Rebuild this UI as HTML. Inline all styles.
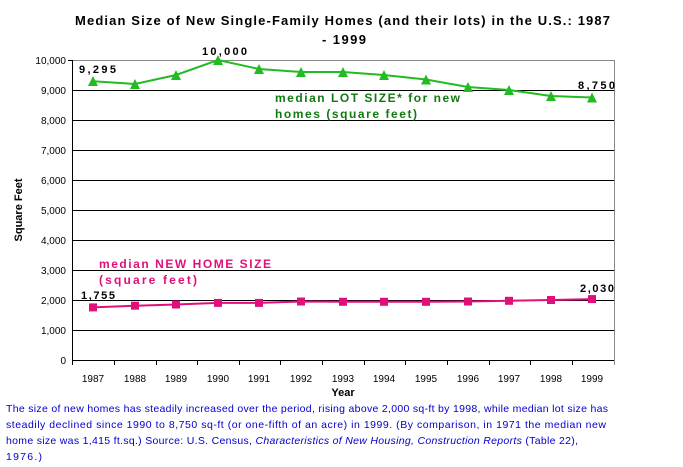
<!DOCTYPE html>
<html><head><style>
html,body{margin:0;padding:0;background:#fff;}
svg{display:block;font-family:"Liberation Sans",Arial,sans-serif;}
</style></head><body>
<svg width="683" height="467" viewBox="0 0 683 467">
<text x="75" y="25" font-size="13" font-weight="bold" textLength="535" lengthAdjust="spacing">Median Size of New Single-Family Homes (and their lots) in the U.S.: 1987</text>
<text x="322" y="44" font-size="13" font-weight="bold" textLength="44" lengthAdjust="spacing">- 1999</text>
<g stroke="#000" stroke-width="1">
<line x1="72" y1="60.5" x2="614" y2="60.5" stroke="#888"/>
<line x1="72" y1="90.5" x2="614" y2="90.5"/>
<line x1="72" y1="120.5" x2="614" y2="120.5"/>
<line x1="72" y1="150.5" x2="614" y2="150.5"/>
<line x1="72" y1="180.5" x2="614" y2="180.5"/>
<line x1="72" y1="210.5" x2="614" y2="210.5"/>
<line x1="72" y1="240.5" x2="614" y2="240.5"/>
<line x1="72" y1="270.5" x2="614" y2="270.5"/>
<line x1="72" y1="300.5" x2="614" y2="300.5"/>
<line x1="72" y1="330.5" x2="614" y2="330.5"/>
<line x1="72" y1="360.5" x2="614" y2="360.5"/>
<line x1="72.5" y1="60" x2="72.5" y2="365"/>
<line x1="614.5" y1="60" x2="614.5" y2="365" stroke="#888"/>
<line x1="68" y1="60.5" x2="72" y2="60.5"/>
</g>
<g font-size="10" text-anchor="end">
<text x="66" y="64">10,000</text><text x="66" y="94">9,000</text><text x="66" y="124">8,000</text>
<text x="66" y="154">7,000</text><text x="66" y="184">6,000</text><text x="66" y="214">5,000</text>
<text x="66" y="244">4,000</text><text x="66" y="274">3,000</text><text x="66" y="304">2,000</text>
<text x="66" y="334">1,000</text><text x="66" y="364">0</text>
</g>
<g stroke="#000">
<line x1="114.5" y1="360" x2="114.5" y2="365"/><line x1="156.5" y1="360" x2="156.5" y2="365"/>
<line x1="197.5" y1="360" x2="197.5" y2="365"/><line x1="239.5" y1="360" x2="239.5" y2="365"/>
<line x1="280.5" y1="360" x2="280.5" y2="365"/><line x1="322.5" y1="360" x2="322.5" y2="365"/>
<line x1="364.5" y1="360" x2="364.5" y2="365"/><line x1="405.5" y1="360" x2="405.5" y2="365"/>
<line x1="447.5" y1="360" x2="447.5" y2="365"/><line x1="489.5" y1="360" x2="489.5" y2="365"/>
<line x1="530.5" y1="360" x2="530.5" y2="365"/><line x1="572.5" y1="360" x2="572.5" y2="365"/>
</g>
<g font-size="10" text-anchor="middle">
<text x="93" y="382">1987</text><text x="135" y="382">1988</text><text x="176" y="382">1989</text>
<text x="218" y="382">1990</text><text x="259" y="382">1991</text><text x="301" y="382">1992</text>
<text x="343" y="382">1993</text><text x="384" y="382">1994</text><text x="426" y="382">1995</text>
<text x="468" y="382">1996</text><text x="509" y="382">1997</text><text x="551" y="382">1998</text>
<text x="592" y="382">1999</text>
</g>
<text x="343" y="396" text-anchor="middle" font-size="11" font-weight="bold">Year</text>
<text transform="translate(22,210) rotate(-90)" text-anchor="middle" font-size="11" font-weight="bold">Square Feet</text>
<polyline fill="none" stroke="#22bb22" stroke-width="2" points="93,81.2 135,84 176,75 218,60 259,69 301,72 343,72 384,75 426,79.5 468,87 509,90 551,96 592,97.5"/>
<g fill="#22bb22">
<polygon points="93,76 88,86 98,86"/><polygon points="135,79 130,89 140,89"/><polygon points="176,70 171,80 181,80"/>
<polygon points="218,55 213,65 223,65"/><polygon points="259,64 254,74 264,74"/><polygon points="301,67 296,77 306,77"/>
<polygon points="343,67 338,77 348,77"/><polygon points="384,70 379,80 389,80"/><polygon points="426,74.5 421,84.5 431,84.5"/>
<polygon points="468,82 463,92 473,92"/><polygon points="509,85 504,95 514,95"/><polygon points="551,91 546,101 556,101"/>
<polygon points="592,92.5 587,102.5 597,102.5"/>
</g>
<polyline fill="none" stroke="#e0107a" stroke-width="2" points="93,307.4 135,305.7 176,304.5 218,302.9 259,302.9 301,301.5 343,301.8 384,301.8 426,301.8 468,301.5 509,300.8 551,300 592,299.1"/>
<g fill="#e0107a">
<rect x="89" y="303.4" width="8" height="8"/><rect x="131" y="301.7" width="8" height="8"/><rect x="172" y="300.5" width="8" height="8"/>
<rect x="214" y="298.9" width="8" height="8"/><rect x="255" y="298.9" width="8" height="8"/><rect x="297" y="297.5" width="8" height="8"/>
<rect x="339" y="297.8" width="8" height="8"/><rect x="380" y="297.8" width="8" height="8"/><rect x="422" y="297.8" width="8" height="8"/>
<rect x="464" y="297.5" width="8" height="8"/><rect x="505" y="296.8" width="8" height="8"/><rect x="547" y="296" width="8" height="8"/>
<rect x="588" y="295.1" width="8" height="8"/>
</g>
<g font-size="11" font-weight="bold">
<text x="79" y="73" textLength="37" lengthAdjust="spacing">9,295</text><text x="202" y="55" textLength="45" lengthAdjust="spacing">10,000</text><text x="578" y="89" textLength="37" lengthAdjust="spacing">8,750</text>
<text x="81" y="299" textLength="34" lengthAdjust="spacing">1,755</text><text x="580" y="292" textLength="34" lengthAdjust="spacing">2,030</text>
</g>
<g font-size="12" font-weight="bold" fill="#107a10">
<text x="275" y="102" textLength="185" lengthAdjust="spacing">median LOT SIZE* for new</text><text x="275" y="118" textLength="142" lengthAdjust="spacing">homes (square feet)</text>
</g>
<g font-size="12" font-weight="bold" fill="#e0107a">
<text x="99" y="268" textLength="172" lengthAdjust="spacing">median NEW HOME SIZE</text><text x="99" y="284" textLength="98" lengthAdjust="spacing">(square feet)</text>
</g>
<g font-size="10.5" fill="#0000cc">
<text x="6" y="412" textLength="602" lengthAdjust="spacing">The size of new homes has steadily increased over the period, rising above 2,000 sq-ft by 1998, while median lot size has</text>
<text x="6" y="428" textLength="600" lengthAdjust="spacing">steadily declined since 1990 to 8,750 sq-ft (or one-fifth of an acre) in 1999.  (By comparison, in 1971 the median new</text>
<text x="6" y="444" textLength="572" lengthAdjust="spacing">home size was 1,415 ft.sq.)  Source:  U.S. Census, <tspan font-style="italic">Characteristics of New Housing, Construction Reports</tspan>  (Table 22),</text>
<text x="6" y="460" textLength="36" lengthAdjust="spacing">1976.)</text>
</g>
</svg>
</body></html>
